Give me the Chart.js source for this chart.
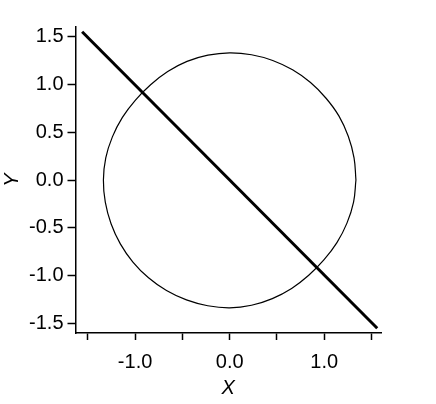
<!DOCTYPE html>
<html>
<head>
<meta charset="utf-8">
<script src="https://cdn.jsdelivr.net/npm/chart.js@4/dist/chart.umd.min.js"></script>
<style>
  html, body { margin: 0; padding: 0; background: #fff; }
</style>
</head>
<body>
<canvas id="plot" width="436" height="404"></canvas>
<script>
// closed curve
const curveX = [1.335, 1.315, 1.254, 1.156, 1.019, 0.855, 0.665, 0.455, 0.231, 0.000,
  -0.230, -0.451, -0.655, -0.836, -0.996, -1.134, -1.240, -1.310, -1.335,
  -1.315, -1.254, -1.156, -1.023, -0.858, -0.668, -0.457, -0.232, 0.000,
  0.231, 0.451, 0.655, 0.836, 0.996, 1.134, 1.240, 1.310, 1.335];
const curveY = [0.000, 0.232, 0.457, 0.668, 0.855, 1.019, 1.152, 1.250, 1.310, 1.330,
  1.305, 1.240, 1.134, 0.996, 0.836, 0.655, 0.451, 0.231, 0.000,
  -0.232, -0.457, -0.668, -0.858, -1.023, -1.156, -1.254, -1.315, -1.337,
  -1.310, -1.240, -1.134, -0.996, -0.836, -0.655, -0.451, -0.231, 0.000];

// straight line y = -x
const lineX = [-1.56, 1.56];
const lineY = [1.55, -1.55];

const xTicks = [-1.5, -1.0, -0.5, 0.0, 0.5, 1.0, 1.5];
const xLabelled = [-1.0, 0.0, 1.0];
const yTicks = [-1.5, -1.0, -0.5, 0.0, 0.5, 1.0, 1.5];

const font = "'Liberation Sans', Arial, sans-serif";

function pts(xs, ys) {
  return xs.map((x, i) => ({ x: x, y: ys[i] }));
}

new Chart(document.getElementById('plot'), {
  type: 'scatter',
  data: {
    datasets: [
      {
        data: pts(curveX, curveY),
        showLine: true,
        borderColor: '#000',
        borderWidth: 1.2,
        tension: 0.4,
        pointRadius: 0,
        fill: false
      },
      {
        data: pts(lineX, lineY),
        showLine: true,
        borderColor: '#000',
        borderWidth: 3,
        pointRadius: 0,
        fill: false
      }
    ]
  },
  options: {
    responsive: false,
    animation: false,
    events: [],
    layout: { padding: { top: 27, right: 55, left: 0, bottom: 0 } },
    plugins: { legend: { display: false }, tooltip: { enabled: false } },
    scales: {
      x: {
        type: 'linear',
        min: -1.63,
        max: 1.6,
        afterBuildTicks: s => { s.ticks = xTicks.map(v => ({ value: v })); },
        afterFit: s => { s.height = 71; },
        border: { display: true, color: '#000', width: 1.5 },
        grid: { drawOnChartArea: false, color: '#000', tickLength: 7, tickWidth: 1.5 },
        ticks: {
          color: '#000',
          padding: 10,
          maxRotation: 0,
          autoSkip: false,
          font: { family: font, size: 20 },
          callback: v => xLabelled.includes(v) ? v.toFixed(1) : ''
        },
        title: {
          display: true,
          text: 'X',
          color: '#000',
          padding: { top: 0, bottom: 4 },
          font: { family: font, size: 20, style: 'italic' }
        }
      },
      y: {
        type: 'linear',
        min: -1.6,
        max: 1.6,
        afterBuildTicks: s => { s.ticks = yTicks.map(v => ({ value: v })); },
        afterFit: s => { s.width = 75.5; },
        border: { display: true, color: '#000', width: 1.5 },
        grid: { drawOnChartArea: false, color: '#000', tickLength: 8, tickWidth: 1.5 },
        ticks: {
          color: '#000',
          padding: 4,
          autoSkip: false,
          font: { family: font, size: 20 },
          callback: v => v.toFixed(1)
        },
        title: {
          display: true,
          text: 'Y',
          color: '#000',
          padding: { top: 0, bottom: 0 },
          font: { family: font, size: 20, style: 'italic' }
        }
      }
    }
  }
});
</script>
</body>
</html>
